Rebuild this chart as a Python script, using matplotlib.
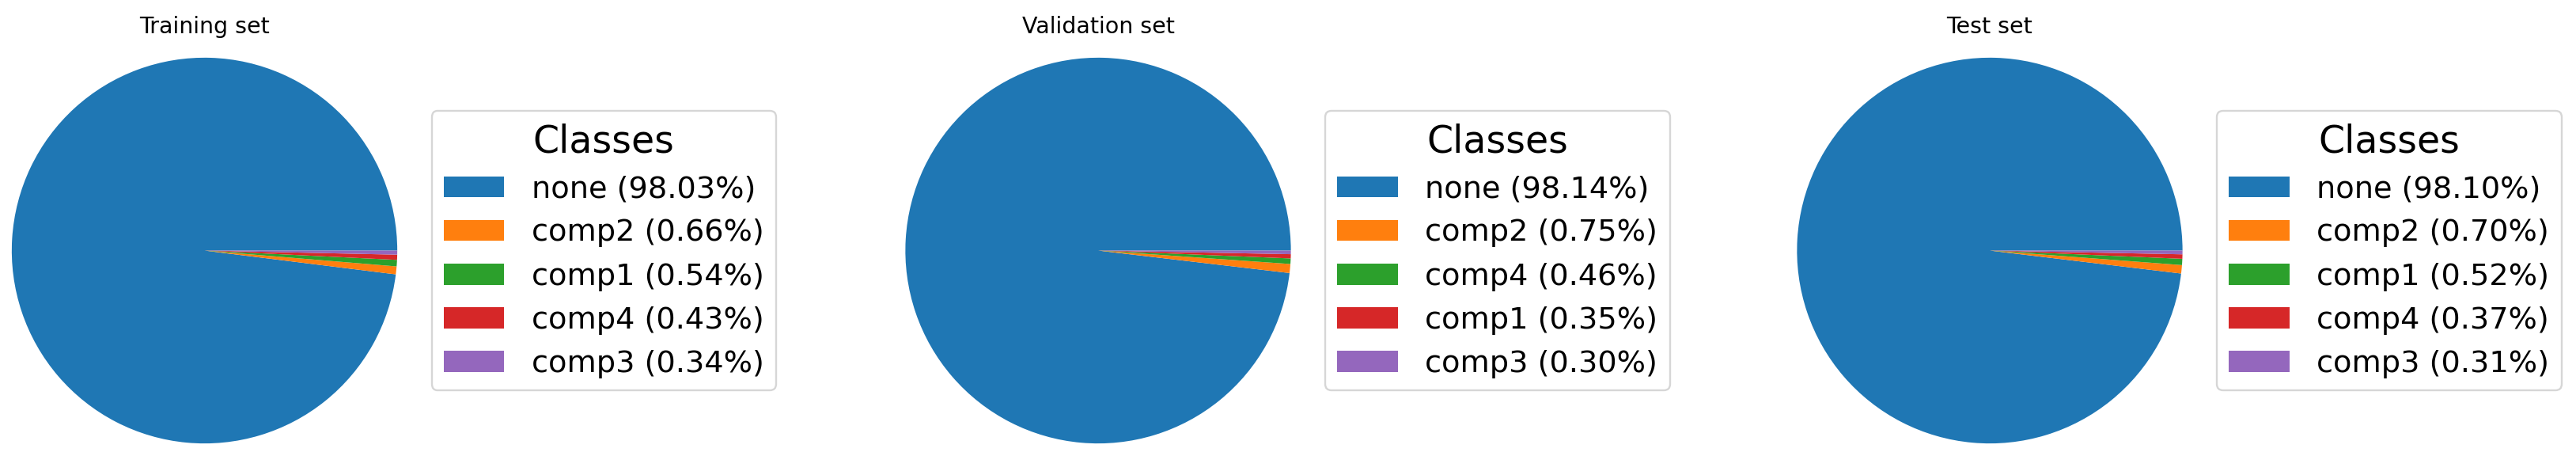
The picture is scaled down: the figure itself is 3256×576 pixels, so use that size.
import matplotlib
matplotlib.use("Agg")
import matplotlib.pyplot as plt

# Class distribution per split (percent)
train_labels = ["none", "comp2", "comp1", "comp4", "comp3"]
train_values = [98.03, 0.66, 0.54, 0.43, 0.34]

val_labels = ["none", "comp2", "comp4", "comp1", "comp3"]
val_values = [98.14, 0.75, 0.46, 0.35, 0.30]

test_labels = ["none", "comp2", "comp1", "comp4", "comp3"]
test_values = [98.10, 0.70, 0.52, 0.37, 0.31]

titles = ["Training set", "Validation set", "Test set"]

W, H = 3256, 576
DPI = 171
fig = plt.figure(figsize=(W / DPI, H / DPI), dpi=DPI)

# pie centres / radius in pixels (from top-left)
centers_x = [258.5, 1388, 2515]
cy = 316.5
half = 268  # half size of the axes box in px (limits +-1.1)

splits = [(train_labels, train_values), (val_labels, val_values), (test_labels, test_values)]

for i, (labels, values) in enumerate(splits):
    cx = centers_x[i]
    ax = fig.add_axes([(cx - half) / W, (H - (cy + half)) / H, 2 * half / W, 2 * half / H])
    wedges, _ = ax.pie(values)
    ax.set_xlim(-1.1, 1.1)
    ax.set_ylim(-1.1, 1.1)
    ax.set_aspect("equal")
    ax.set_title(titles[i], fontsize=12, pad=2.3)
    leg_labels = [f"{l} ({v:.2f}%)" for l, v in zip(labels, values)]
    ax.legend(wedges, leg_labels, title="Classes", loc="center left",
              bbox_to_anchor=(1, 0.5), fontsize=16.1, title_fontsize=20,
              handletextpad=0.9)

fig.savefig("out.png", dpi=DPI)
